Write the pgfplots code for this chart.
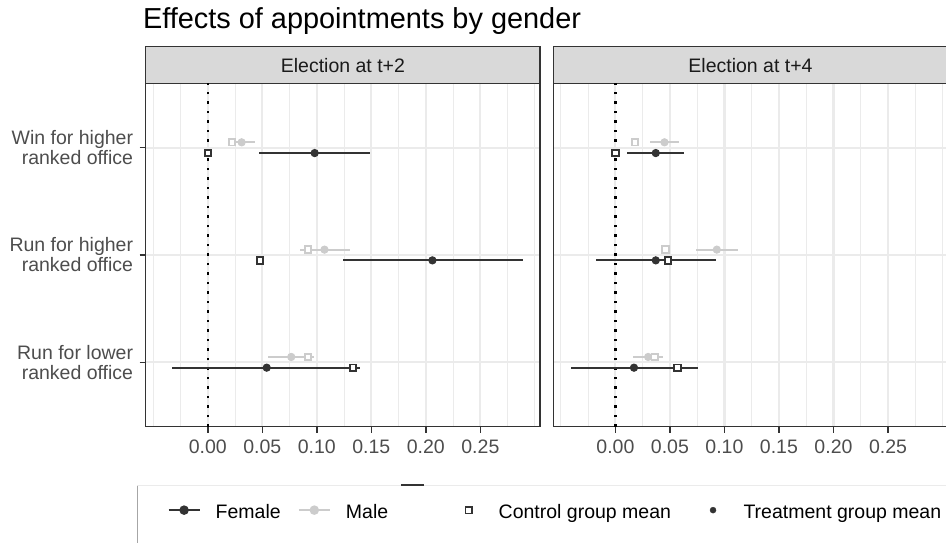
\documentclass[border=0pt]{standalone}
\usepackage{pgfplots}
\pgfplotsset{compat=1.18}
\usepackage{pgfplotstable}
\usepackage{fontspec}
\setmainfont{Liberation Sans}

\definecolor{fem}{HTML}{333333}
\definecolor{mal}{HTML}{CCCCCC}
\definecolor{gridc}{HTML}{EBEBEB}
\definecolor{panelc}{HTML}{333333}
\definecolor{stripc}{HTML}{D9D9D9}
\definecolor{tickc}{HTML}{4D4D4D}
\definecolor{stript}{HTML}{1A1A1A}

\newcommand\tk{\fontsize{19.5}{20}\selectfont}

% pos = row position (dodged), est = treatment mean, lo/hi = interval, ctrl = control mean
% Election at t+2
\pgfplotstableread{
pos   est     lo      hi      ctrl
2.95  0.098   0.047   0.149   0.000
1.95  0.206   0.124   0.289   0.048
0.95  0.054  -0.033   0.140   0.133
}\femA
\pgfplotstableread{
pos   est     lo      hi      ctrl
3.05  0.031   0.020   0.043   0.022
2.05  0.107   0.085   0.130   0.092
1.05  0.0765  0.055   0.097   0.092
}\malA
% Election at t+4
\pgfplotstableread{
pos   est     lo      hi      ctrl
2.95  0.037   0.011   0.063   0.000
1.95  0.037  -0.018   0.092   0.048
0.95  0.017  -0.041   0.0755  0.057
}\femB
\pgfplotstableread{
pos   est     lo      hi      ctrl
3.05  0.045   0.032   0.058   0.018
2.05  0.093   0.074   0.112   0.046
1.05  0.030   0.0165  0.044   0.036
}\malB

\pgfplotsset{
  panel/.style={
    scale only axis, width=394.3pt, height=343.4pt,
    xmin=-0.057, xmax=0.3047, ymin=0.4, ymax=3.6,
    xtick={0,0.05,0.1,0.15,0.2,0.25},
    xticklabels={0.00,0.05,0.10,0.15,0.20,0.25},
    minor xtick={-0.05,-0.025,0.025,0.075,0.125,0.175,0.225,0.275,0.3},
    ytick={1,2,3},
    xmajorgrids, xminorgrids, ymajorgrids,
    major grid style={draw=gridc, line width=2.1pt},
    minor grid style={draw=gridc, line width=1.1pt},
    axis line style={draw=panelc, line width=1.4pt},
    tick align=outside, xtick pos=bottom, ytick pos=left,
    major tick length=6pt, minor tick length=0pt,
    tick style={draw=panelc, line width=1.6pt},
    xticklabel style={font=\tk, text=tickc, inner sep=0pt, yshift=-6.6pt},
    /pgf/number format/assume math mode=true,
    legend cell align=left,
    legend columns=-1,
  },
  keybox/.style={draw=none, fill=none, inner sep=0pt, font=\tk,
    nodes={inner sep=0pt, anchor=base west, yshift=-8.7pt}},
  ci/.style={draw=none, mark=none, forget plot,
    error bars/.cd, x dir=both, x explicit, error mark=none,
    error bar style={draw=#1, line width=2.2pt, line cap=butt}},
  tdot/.style={only marks, mark=*, mark size=3.6pt, color=#1, forget plot,
    mark options={line width=1pt, fill=#1, draw=#1}},
  csq/.style={only marks, mark=square*, mark size=3.2pt, forget plot,
    mark options={draw=#1, fill=white, line width=1.9pt}},
  zeroline/.style={black, line width=2.6pt, dash pattern=on 2.6pt off 6.9pt, forget plot},
  keyline/.style={legend image code/.code={%
    \draw[mark repeat=2, mark phase=2, ##1] plot coordinates {(0pt,0pt) (15.5pt,0pt) (31pt,0pt)};}},
  keymark/.style={legend image code/.code={\draw[##1] plot coordinates {(0pt,0pt)};}},
}

\newcommand\panelplots[2]{%
  \addplot[zeroline] coordinates {(0,0.4) (0,3.6)};
  \addplot[ci=mal] table[x=est, y=pos,
    x error plus expr=\thisrow{hi}-\thisrow{est},
    x error minus expr=\thisrow{est}-\thisrow{lo}] {#2};
  \addplot[tdot=mal] table[x=est, y=pos] {#2};
  \addplot[csq=mal] table[x=ctrl, y=pos] {#2};
  \addplot[ci=fem] table[x=est, y=pos,
    x error plus expr=\thisrow{hi}-\thisrow{est},
    x error minus expr=\thisrow{est}-\thisrow{lo}] {#1};
  \addplot[tdot=fem] table[x=est, y=pos] {#1};
  \addplot[csq=fem] table[x=ctrl, y=pos] {#1};
}

\begin{document}
\begin{tikzpicture}
\useasboundingbox (0,0) rectangle (946pt,-543pt);

% title
\node[anchor=base west, inner sep=0pt, font=\fontsize{28.9}{30}\selectfont]
  at (142.8pt,-28.3pt) {Effects of appointments by gender};

% facet strips
\draw[fill=stripc, draw=panelc, line width=1.4pt] (145.7pt,-46.7pt) rectangle (540pt,-83.3pt);
\draw[fill=stripc, draw=panelc, line width=1.4pt] (553.3pt,-46.7pt) rectangle (947.6pt,-83.3pt);
\node[font=\tk, text=stript] at (342.9pt,-65.5pt) {Election at t+2};
\node[font=\tk, text=stript] at (750.5pt,-65.5pt) {Election at t+4};

% legend box edges
\draw[draw=gridc, line width=1pt] (137pt,-485.5pt) -- (946pt,-485.5pt);
\draw[draw=black!35, line width=1pt] (137pt,-485.5pt) -- (137pt,-543pt);
\draw[draw=fem, line width=2pt] (400.8pt,-484.5pt) -- (424.3pt,-484.5pt);

\begin{axis}[panel, at={(145.7pt,-426.7pt)}, anchor=south west,
  yticklabels={{Run for lower\\ranked office},{Run for higher\\ranked office},{Win for higher\\ranked office}},
  yticklabel style={font=\tk, text=tickc, align=right, inner sep=0pt, xshift=-6.4pt},
  legend style={keybox, at={(0.0548,-0.2499)}, anchor=west,
    /tikz/column 1/.style={column sep=15pt},
    /tikz/column 2/.style={column sep=17pt, anchor=base west},
    /tikz/column 3/.style={column sep=15pt},
    /tikz/column 4/.style={anchor=base west}},
]
\panelplots{\femA}{\malA}
\addlegendimage{keyline, fem, line width=2.2pt, mark=*, mark size=3.6pt, mark options={solid, fill=fem}}
\addlegendentry{Female}
\addlegendimage{keyline, mal, line width=2.2pt, mark=*, mark size=3.6pt, mark options={solid, fill=mal}}
\addlegendentry{Male}
\end{axis}

\begin{axis}[panel, at={(553.3pt,-426.7pt)}, anchor=south west,
  yticklabels={}, ytick style={draw=none},
  legend style={keybox, at={(-0.2232,-0.2499)}, anchor=west,
    /tikz/column 1/.style={column sep=26.8pt},
    /tikz/column 2/.style={column sep=39pt, anchor=base west},
    /tikz/column 3/.style={column sep=27.5pt},
    /tikz/column 4/.style={anchor=base west}},
]
\panelplots{\femB}{\malB}
\addlegendimage{keymark, only marks, mark=square*, mark size=3.2pt, mark options={draw=fem, fill=white, line width=1.6pt}}
\addlegendentry{Control group mean}
\addlegendimage{keymark, only marks, fem, mark=*, mark size=3pt, mark options={fill=fem}}
\addlegendentry{Treatment group mean}
\end{axis}
\end{tikzpicture}
\end{document}
